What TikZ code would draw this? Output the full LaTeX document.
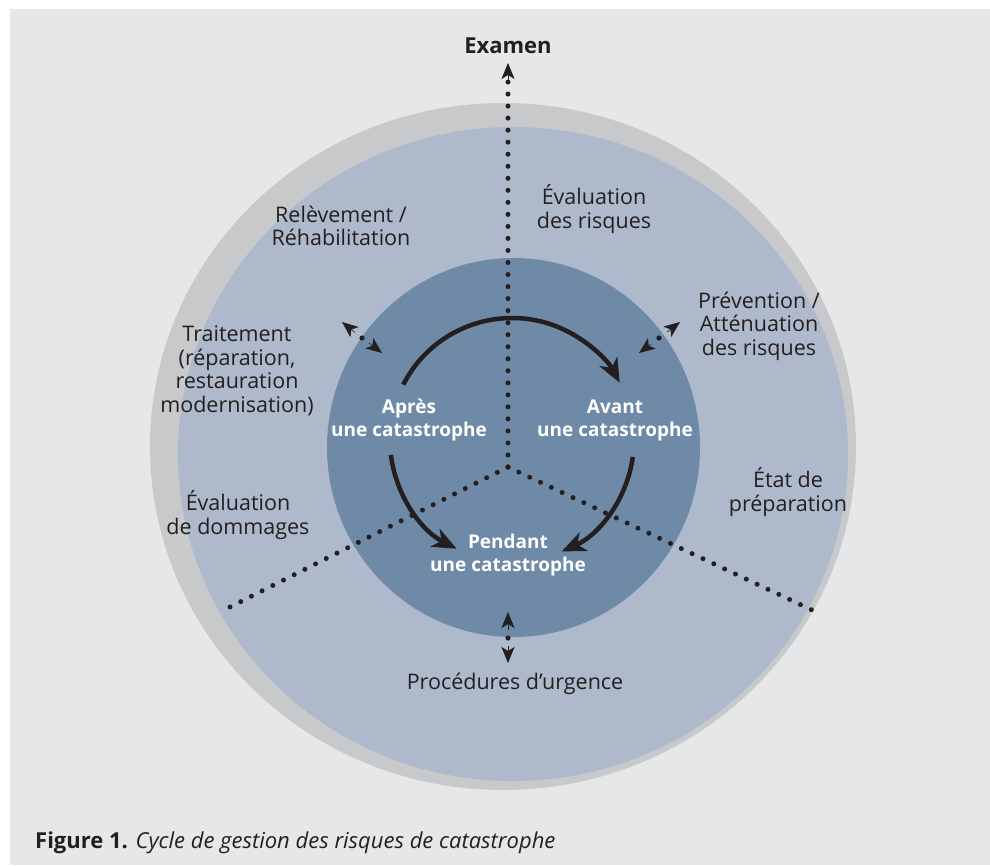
\documentclass[tikz,border=0pt]{standalone}
\usepackage{fontspec}
\setmainfont{Open Sans}
\usetikzlibrary{arrows.meta}
\definecolor{bgc}{HTML}{E6E7E9}
\definecolor{ringc}{HTML}{C8C9CB}
\definecolor{lightb}{HTML}{AEB9CC}
\definecolor{darkb}{HTML}{6E8AA6}
\definecolor{ink}{HTML}{231F20}
\tikzset{
  lbl/.style={align=center,text=ink,font=\fontsize{21.5}{23.5}\selectfont,inner sep=0pt},
  wlbl/.style={align=center,text=white,font=\fontsize{19}{23}\selectfont\bfseries,inner sep=0pt},
  dots/.style={ink,line width=5pt,line cap=round},
  cyc/.style={ink,line width=4.5pt,-{Stealth[length=24pt,width=20pt,inset=7pt]}},
  smalltip/.style={ink,line width=0.6pt,-{Stealth[length=16pt,width=13pt,inset=4pt]}},
}
\begin{document}
\begin{tikzpicture}[x=1pt,y=-1pt]
\useasboundingbox (0,0) rectangle (990,865);
\fill[white] (0,0) rectangle (990,865);
\fill[bgc] (10,9) rectangle (990,865);
\fill[ringc] (503,446.5) ellipse [x radius=353, y radius=343.5];
\fill[lightb] (513,454) ellipse [x radius=335, y radius=327];
\fill[darkb] (513.5,447.5) ellipse [x radius=186.5, y radius=189.5];

% dotted lines
\coordinate (ctr) at (508,467);
\coordinate (topend) at (508,82);
\coordinate (llend) at (230,607);
\coordinate (lrend) at (812,610);
\draw[dots,dash pattern=on 0pt off 12.03pt] (ctr) -- (topend);
\draw[dots,dash pattern=on 0pt off 11.97pt] (ctr) -- (llend);
\draw[dots,dash pattern=on 0pt off 11.97pt] (ctr) -- (lrend);
\coordinate (ttipbase) at (508,80);
\coordinate (ttip) at (508,63);
\draw[smalltip] (ttipbase) -- (ttip);

% double arrows at inner boundary
\coordinate (d1) at (362,338);
\coordinate (d1a) at (355,332.5);
\coordinate (d1at) at (342,322);
\coordinate (d1b) at (369,343);
\coordinate (d1bt) at (382,353);
\fill[ink] (d1) circle (2.6);
\draw[smalltip] (d1a) -- (d1at);
\draw[smalltip] (d1b) -- (d1bt);

\coordinate (d2) at (659,338);
\coordinate (d2a) at (667,332);
\coordinate (d2at) at (680,322);
\coordinate (d2b) at (651,344);
\coordinate (d2bt) at (639,353);
\fill[ink] (d2) circle (2.6);
\draw[smalltip] (d2a) -- (d2at);
\draw[smalltip] (d2b) -- (d2bt);

\coordinate (d3) at (508,638);
\coordinate (d3a) at (508,630);
\coordinate (d3at) at (508,612);
\coordinate (d3b) at (508,646);
\coordinate (d3bt) at (508,663);
\fill[ink] (d3) circle (2.6);
\draw[smalltip] (d3a) -- (d3at);
\draw[smalltip] (d3b) -- (d3bt);

% cycle arrows (circle centre 512,440 radius 122)
\coordinate (cc) at (512,440);
\draw[cyc] ([shift={(-153:122)}]cc) arc[start angle=-153, end angle=-28, radius=122];
\draw[cyc] ([shift={(-187:122)}]cc) arc[start angle=-187, end angle=-243, radius=122];
\draw[cyc] ([shift={(8:122)}]cc) arc[start angle=8, end angle=66, radius=122];

% labels
\node[lbl,font=\fontsize{22}{24}\selectfont\bfseries] (examen) at (508,46) {Examen};
\node[lbl] (evr) at (594,209) {Évaluation\\des risques};
\node[lbl] (rel) at (341,226) {Relèvement /\\Réhabilitation};
\node[lbl] (prev) at (759,326) {Prévention /\\Atténuation\\des risques};
\node[lbl] (trait) at (237,371) {Traitement\\(réparation,\\restauration\\modernisation)};
\node[lbl] (evd) at (238,515) {Évaluation\\de dommages};
\node[lbl] (etat) at (788,492) {État de\\préparation};
\node[lbl] (proc) at (515,684) {Procédures d’urgence};
\node[wlbl] (apres) at (409,420) {Après\\une catastrophe};
\node[wlbl] (avant) at (615,420) {Avant\\une catastrophe};
\node[wlbl] (pend) at (508,555) {Pendant\\une catastrophe};
\node[anchor=west,text=ink,inner sep=0pt,font=\fontsize{22}{24}\selectfont] (cap) at (35,843) {\textbf{Figure 1.} \textit{Cycle de gestion des risques de catastrophe}};
\end{tikzpicture}
\end{document}
